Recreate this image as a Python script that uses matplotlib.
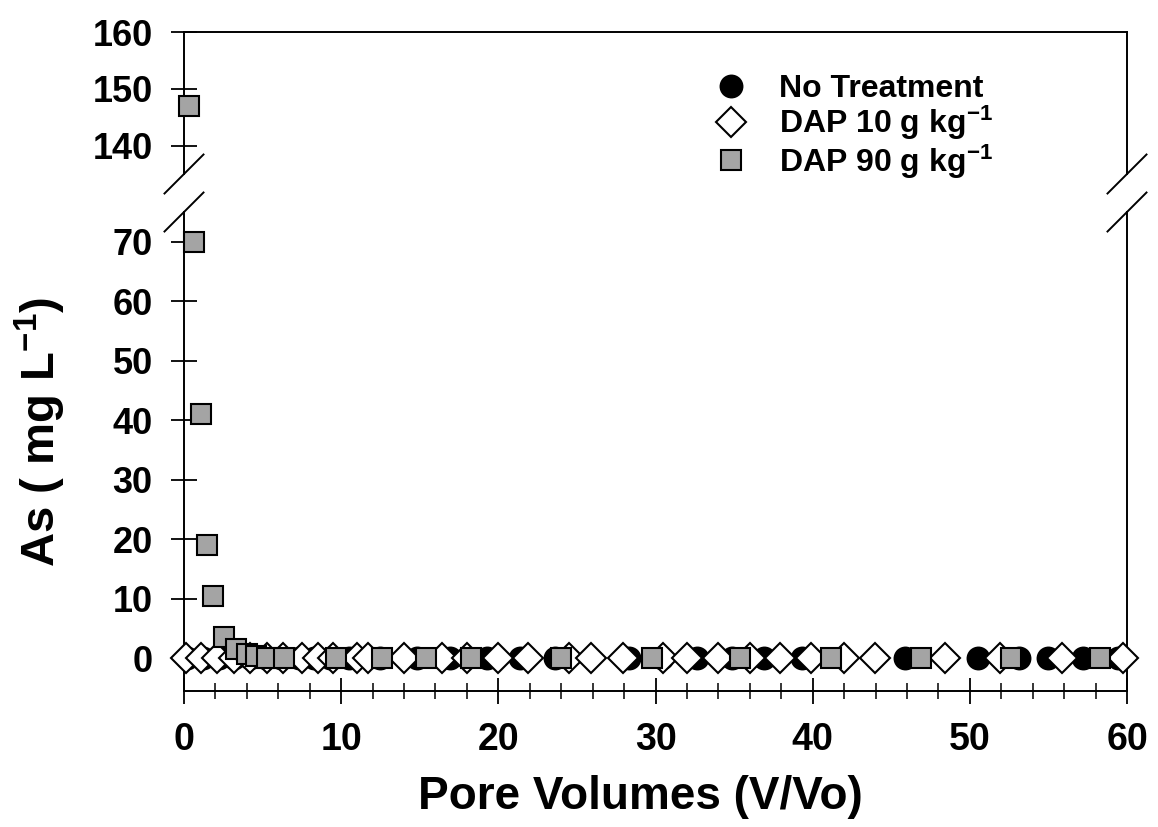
import matplotlib
matplotlib.use('Agg')
import matplotlib.pyplot as plt
import numpy as np
from matplotlib.lines import Line2D

plt.rcParams['font.family'] = ['Liberation Sans', 'DejaVu Sans']
plt.rcParams['font.weight'] = 'bold'
plt.rcParams['mathtext.fontset'] = 'custom'
plt.rcParams['mathtext.rm'] = 'Liberation Sans:bold'
plt.rcParams['mathtext.bf'] = 'Liberation Sans:bold'
plt.rcParams['mathtext.default'] = 'bf'

# ---- data ----
no_treat_x = [0.2, 1.2, 2.2, 3.2, 4.2, 5.2, 6.2, 7.3, 8.3, 9.3, 10.5, 12.5,
              14.8, 16.9, 19.3, 21.4, 23.6, 28.3, 30.4, 32.65, 34.85, 36.9,
              39.3, 45.9, 50.5, 53.1, 55.0, 57.2, 59.4]
no_treat_y = [0.0] * len(no_treat_x)

dap10_x = [0.1, 1.1, 2.1, 3.2, 4.2, 5.3, 6.3, 7.5, 8.5, 9.5, 11.0, 11.7, 14.0,
           16.4, 18.0, 20.0, 21.9, 24.5, 25.9, 27.95, 30.5, 32.0, 33.95, 36.0,
           37.9, 39.9, 42.0, 43.95, 48.4, 51.9, 55.85, 59.75]
dap10_y = [0.0] * len(dap10_x)

dap90_x = [0.32, 0.64, 1.06, 1.47, 1.83, 2.55, 3.29, 4.0, 4.57, 5.27, 6.37,
           9.7, 12.6, 15.4, 18.25, 24.0, 29.8, 35.4, 41.15, 46.9, 52.6, 58.3]
dap90_y = [147, 70, 41, 19, 10.5, 3.5, 1.6, 0.8, 0.3, 0.1, 0.0,
           0.0, 0.0, 0.0, 0.0, 0.0, 0.0, 0.0, 0.0, 0.0, 0.0, 0.0]

labels = ['No Treatment', 'DAP 10 g kg$^{-1}$', 'DAP 90 g kg$^{-1}$']
top_ticks = [140, 150, 160]
bot_ticks = [0, 10, 20, 30, 40, 50, 60, 70]
x_ticks = [0, 10, 20, 30, 40, 50, 60]

W, H = 1158, 827
fig = plt.figure(figsize=(W / 100, H / 100), dpi=100)
left = 184 / W
right = 1127 / W
top_y0, top_y1 = 174, 32
bot_y0, bot_y1 = 691, 212
ax_top = fig.add_axes([left, 1 - top_y0 / H, right - left, (top_y0 - top_y1) / H])
ax_bot = fig.add_axes([left, 1 - bot_y0 / H, right - left, (bot_y0 - bot_y1) / H])

styles = [
    dict(marker='o', ms=16, mfc='black', mec='black', mew=1.2),
    dict(marker='D', ms=15.5, mfc='white', mec='black', mew=1.5),
    dict(marker='s', ms=14, mfc='#a4a4a4', mec='black', mew=1.5),
]
series = [(no_treat_x, no_treat_y), (dap10_x, dap10_y), (dap90_x, dap90_y)]

for ax, lo, hi in [(ax_top, 135, 160), (ax_bot, -5.5, 75)]:
    for (xs, ys), st, z in zip(series, styles, [3, 4, 5]):
        xs = np.asarray(xs, float)
        ys = np.asarray(ys, float)
        m = (ys >= lo) & (ys <= hi)
        ax.plot(xs[m], ys[m], ls='none', clip_on=False, zorder=z, **st)
    ax.set_ylim(lo, hi)
    ax.set_xlim(0, 60)
    for s in ax.spines.values():
        s.set_linewidth(1.4)

ax_top.set_yticks(top_ticks)
ax_bot.set_yticks(bot_ticks)
ax_bot.set_xticks(x_ticks)
ax_bot.set_xticks(np.arange(0, 61, 2), minor=True)
ax_top.set_xticks([])
ax_top.spines['bottom'].set_visible(False)
ax_bot.spines['top'].set_visible(False)

for ax in (ax_top, ax_bot):
    ax.tick_params(axis='y', direction='inout', length=19, width=1.3,
                   labelsize=26, pad=13)
ax_bot.tick_params(axis='x', which='major', direction='inout', length=19,
                   width=1.3, labelsize=27, pad=13)
ax_bot.tick_params(axis='x', which='minor', direction='inout', length=11,
                   width=1.1)
for ax in (ax_top, ax_bot):
    for t in ax.get_xticklabels() + ax.get_yticklabels():
        t.set_fontweight('bold')

# break marks
def slash(xc, yc):
    dx, dy = 19.5 / W, 19.5 / H
    fig.add_artist(Line2D([xc - dx, xc + dx], [yc - dy, yc + dy],
                          transform=fig.transFigure, color='black', lw=1.4))

for xc in (left, right):
    slash(xc, 1 - top_y0 / H)
    slash(xc, 1 - bot_y1 / H)

fig.text(40 / W, 1 - 432 / H, 'As ( mg L$^{-1}$)', rotation=90,
         ha='center', va='center', fontsize=34, fontweight='bold')
fig.text(640 / W, 1 - 797 / H, 'Pore Volumes (V/Vo)', ha='center',
         va='center', fontsize=33, fontweight='bold')

handles = [Line2D([], [], ls='none', **st) for st in styles]
leg = fig.legend(handles, labels, loc='upper left',
                 bbox_to_anchor=(712 / W, 1 - 74 / H), frameon=False,
                 fontsize=23, handlelength=1.2, handletextpad=0.9,
                 labelspacing=0.0, borderaxespad=0, borderpad=0)
for t in leg.get_texts():
    t.set_fontweight('bold')

fig.savefig('out.png', dpi=100)
